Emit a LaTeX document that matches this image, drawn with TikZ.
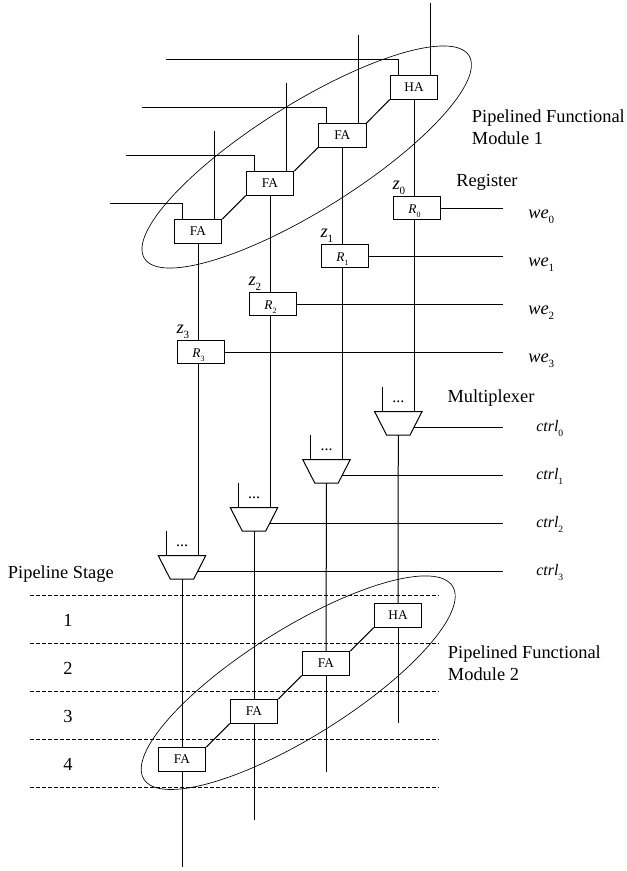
\documentclass[tikz,border=0pt]{standalone}
\usepackage{fontspec}
\setmainfont{Liberation Serif}
\usepackage{graphicx}
\usepackage{xcolor}
\usepackage{tikz}
\usetikzlibrary{shapes.geometric}

\newcommand{\subtext}[2]{\textit{#1}\raisebox{-.3em}{\scalebox{.6}{#2}}}
\newcommand{\sizefont}[1]{\fontsize{#1}{16.5}\selectfont}

\tikzset{
    wire/.style={line width=0.75pt},
    stageline/.style={line width=0.6pt, dash pattern=on 3.2pt off 1.3pt},
    adder/.style={draw, line width=0.75pt, minimum width=35.6pt, minimum height=17.6pt, inner sep=0pt, font=\sizefont{10}},
    register/.style={adder, text height=7.5pt, text depth=0pt},
    muxbox/.style={minimum width=35.6pt, minimum height=17.6pt, inner sep=0pt, outer sep=0pt},
    module/.style={draw, ellipse, line width=0.5pt, inner sep=0pt, rotate=32},
    bigtext/.style={font=\sizefont{13.8}, align=left, anchor=base west, inner sep=0pt},
    ctrltext/.style={font=\sizefont{12}, anchor=base west, inner sep=0pt}
}

\begin{document}
\begin{tikzpicture}[x=0.75pt, y=-0.75pt]
    \useasboundingbox (0,0) rectangle (626,871);
    \coordinate (rail) at (502.7,0);

    % adders of module 1
    \foreach \i/\txt/\x/\y/\sumtop/\cx/\cy in {0/HA/414/87.3/3/165.7/59.3, 1/FA/342.3/135.3/35/141.7/107.3, 2/FA/270/183.3/83/125.7/155.3, 3/FA/198/231.3/131/109.7/203.3} {
        \node[adder] (top\i) at (\x,\y) {\txt};
        \coordinate (sum\i) at (\x+16,\sumtop);
        \coordinate (cin\i) at (\cx,\cy);
        \coordinate (cend\i) at (\x-16,\y-12);
        \draw[wire] (sum\i) -- (sum\i |- top\i.north);
        \draw[wire] (cin\i) -| (cend\i);
    }

    % registers
    \foreach \i/\x/\y in {0/417/208, 1/345/256, 2/273/304, 3/201/352} {
        \node[register] (reg\i) at (\x,\y) {\subtext{R}{\i}\hspace*{3.8pt}};
        \node[bigtext] (zlab\i) at (\x-24.7,\y-18.7) {\subtext{z}{\i}};
        \node[bigtext] (welab\i) at (528,\y+10) {\subtext{we}{\i}};
        \draw[wire] (reg\i.east) -- (rail |- reg\i.east);
    }

    % multiplexers
    \foreach \i/\x/\y in {0/398.3/423.3, 1/326.5/471.3, 2/254/519.3, 3/182/567.3} {
        \node[muxbox] (mux\i) at (\x,\y) {};
        \draw[wire] (mux\i.north west) -- (mux\i.north east) -- ([xshift=-9pt]mux\i.south east) -- ([xshift=9pt]mux\i.south west) -- cycle;
        \coordinate (sel\i) at (\x-16,\y-36);
        \coordinate (ctrlin\i) at ([shift={(-6pt,-3pt)}]mux\i.east);
        \node[font=\sizefont{12}, anchor=base] (dots\i) at (\x,\y-21) {...};
        \node[ctrltext] (ctrl\i) at (536,\y+8.4) {\subtext{ctrl}{\i}};
        \draw[wire] (sel\i) -- (sel\i |- mux\i.north);
        \draw[wire] (ctrlin\i) -- (rail |- ctrlin\i);
        \draw[wire] (top\i.south) -- (top\i.south |- reg\i.north);
        \draw[wire] (top\i.south |- reg\i.south) -- (top\i.south |- mux\i.north);
    }

    % adders of module 2
    \foreach \i/\txt/\x/\y/\yend in {0/HA/398/615.3/723.3, 1/FA/326/663.3/771.7, 2/FA/254/711.3/819.7, 3/FA/182/759.3/867.3} {
        \node[adder] (low\i) at (\x,\y) {\txt};
        \coordinate (end\i) at (\x,\yend);
        \draw[wire] (mux\i.south) -- (low\i.north);
        \draw[wire] (low\i.south) -- (end\i);
    }

    % carries
    \foreach \a/\b in {0/1, 1/2, 2/3} {
        \draw[wire] (top\a.south west) -- (top\b.north east);
        \draw[wire] (low\a.south west) -- (low\b.north east);
    }

    % pipeline stages
    \foreach \i/\y in {0/595.3, 1/643.3, 2/691.3, 3/739.3, 4/787.3} {
        \coordinate (dashl\i) at (30,\y);
        \coordinate (dashr\i) at (438.7,\y);
        \draw[stageline] (dashl\i) -- (dashr\i);
    }
    \foreach \i/\y in {1/626, 2/674, 3/722, 4/770} {
        \node[font=\sizefont{13.8}, anchor=base] (stage\i) at (68,\y) {\i};
    }

    \node[module, minimum width=287pt, minimum height=80pt] (moduleA) at (306.7,157) {};
    \node[module, minimum width=273pt, minimum height=81pt] (moduleB) at (298.2,682.7) {};

    \node[bigtext] (nameA) at (471.7,144.3) {Pipelined Functional\\Module 1};
    \node[bigtext] (nameB) at (447.7,680) {Pipelined Functional\\Module 2};
    \node[bigtext] (regname) at (456,186.7) {Register};
    \node[bigtext] (muxname) at (447.3,402.7) {Multiplexer};
    \node[bigtext] (stagename) at (7.7,578.3) {Pipeline Stage};
\end{tikzpicture}
\end{document}
